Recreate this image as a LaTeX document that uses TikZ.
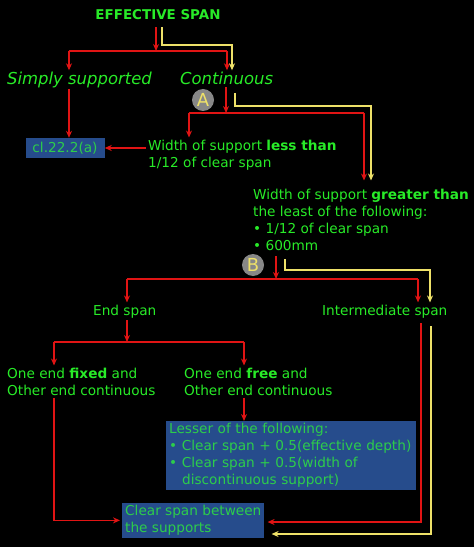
\documentclass[tikz,border=0pt]{standalone}
\usepackage{fontspec}
\setmainfont{DejaVu Sans}
\usetikzlibrary{arrows.meta}

\definecolor{txtgreen}{RGB}{40,235,40}
\definecolor{boxgreen}{RGB}{45,205,75}
\definecolor{boxblue}{RGB}{38,76,140}
\definecolor{linered}{RGB}{225,20,20}
\definecolor{lineyellow}{RGB}{238,225,105}
\definecolor{markgray}{RGB}{135,135,135}

\tikzset{
  body/.style={text=txtgreen, inner sep=2bp, align=left,
    font=\fontsize{13.7}{17.2}\selectfont},
  branch/.style={text=txtgreen, inner sep=2bp,
    font=\fontsize{16.5}{20}\selectfont\itshape},
  infobox/.style={fill=boxblue, text=boxgreen, inner xsep=3bp, inner ysep=2bp,
    align=left, font=\fontsize{13.7}{17.2}\selectfont},
  marker/.style={circle, fill=markgray, text=lineyellow, inner sep=0pt,
    minimum size=22bp, font=\fontsize{18}{18}\selectfont},
  redline/.style={draw=linered, line width=1.3bp},
  redarr/.style={redline, -{Stealth[length=7bp,width=6bp]}},
  yelarr/.style={draw=lineyellow, line width=1.3bp, -{Stealth[length=7bp,width=6bp]}}
}

\begin{document}
\begin{tikzpicture}[x=1bp,y=-1bp]
  \fill[black] (0,0) rectangle (474,547);
  \useasboundingbox (0,0) rectangle (474,547);

  \node[body, anchor=base, font=\fontsize{13.5}{16}\selectfont\bfseries] (title) at (158,20) {EFFECTIVE SPAN};
  \node[branch, anchor=base west] (simply) at (5,85) {Simply supported};
  \node[branch, anchor=base west] (cont) at (178,85) {Continuous};
  \node[marker] (markA) at (203,100) {A};
  \node[infobox, minimum width=79bp, minimum height=20bp] (cl) at (65,148) {cl.22.2(a)};
  \node[body, anchor=north west] (less) at (146,137.5) {Width of support \textbf{less than}\\1/12 of clear span};
  \node[body, anchor=north west] (great) at (251,186.5) {Width of support \textbf{greater than}\\the least of the following:\\• 1/12 of clear span\\• 600mm};
  \node[marker] (markB) at (253,265) {B};
  \node[body, anchor=base west] (endsp) at (91,315) {End span};
  \node[body, anchor=base west] (inter) at (320,315) {Intermediate span};
  \node[body, anchor=north west] (fixed) at (5,365.5) {One end \textbf{fixed} and\\Other end continuous};
  \node[body, anchor=north west] (free) at (182,365.5) {One end \textbf{free} and\\Other end continuous};
  \node[infobox, anchor=north west, text width=244bp] (lesser) at (166,421) {Lesser of the following:\\• Clear span + 0.5(effective depth)\\• Clear span + 0.5(width of\\\hspace*{0.95em}discontinuous support)};
  \node[infobox, anchor=north west] (clear) at (122,503) {Clear span between\\the supports};

  \coordinate (s1) at (156,51);
  \coordinate (s1l) at (69,51);
  \coordinate (s1r) at (227,51);
  \coordinate (y1) at (232,45);
  \draw[redarr, shorten <=5bp] (title.south -| s1) -- (s1);
  \draw[redline] (s1l) -- (s1r);
  \draw[redarr] (s1l) -- (s1l |- simply.north);
  \draw[redarr] (s1r) -- (s1r |- cont.north);
  \draw[yelarr, shorten <=5bp] ([xshift=4bp]title.south) |- (y1) -- (y1 |- cont.north);
  \draw[redarr, shorten <=-2bp] (s1l |- simply.south) -- (s1l |- cl.north);

  \coordinate (s2) at (226,113);
  \coordinate (s2l) at (189,113);
  \coordinate (s2r) at (364,113);
  \coordinate (y2) at (371,106);
  \coordinate (y2a) at (235,93);
  \draw[redarr] (cont.south -| s2) -- (s2);
  \draw[redline] (s2l) -- (s2r);
  \draw[redarr] (s2l) -- (s2l |- less.north);
  \draw[redarr, shorten >=6bp] (s2r) -- (s2r |- great.north);
  \draw[yelarr, shorten >=6bp] (y2a) |- (y2) -- (y2 |- great.north);
  \draw[redarr] (less.west |- cl.east) -- (cl.east);

  \coordinate (s3) at (276,279);
  \coordinate (s3l) at (127,279);
  \coordinate (s3r) at (418,279);
  \coordinate (y3) at (430,270);
  \draw[redarr, shorten <=3bp] (great.south -| s3) -- (s3);
  \draw[redline] (s3l) -- (s3r);
  \draw[redarr] (s3l) -- (s3l |- endsp.north);
  \draw[redarr] (s3r) -- (s3r |- inter.north);
  \draw[yelarr, shorten <=6bp] (great.south -| 285,0) |- (y3) -- (y3 |- inter.north);

  \coordinate (s4) at (127,342);
  \coordinate (s4l) at (54,342);
  \coordinate (s4r) at (244,342);
  \draw[redarr] (endsp.south -| s4) -- (s4);
  \draw[redline] (s4l) -- (s4r);
  \draw[redarr] (s4l) -- (s4l |- fixed.north);
  \draw[redarr] (s4r) -- (s4r |- free.north);
  \draw[redarr] (free.south -| s4r) -- (s4r |- lesser.north);
  \draw[redarr, shorten >=2bp] (fixed.south -| s4l) |- (clear.west);

  \coordinate (d1) at (421,522);
  \coordinate (d2) at (431,534);
  \draw[redarr, shorten <=3bp, shorten >=3bp] (inter.south -| d1) -- (d1) -- (d1 -| clear.east);
  \draw[yelarr, shorten <=6bp, shorten >=7bp] (inter.south -| d2) -- (d2) -- (d2 -| clear.east);
\end{tikzpicture}
\end{document}
